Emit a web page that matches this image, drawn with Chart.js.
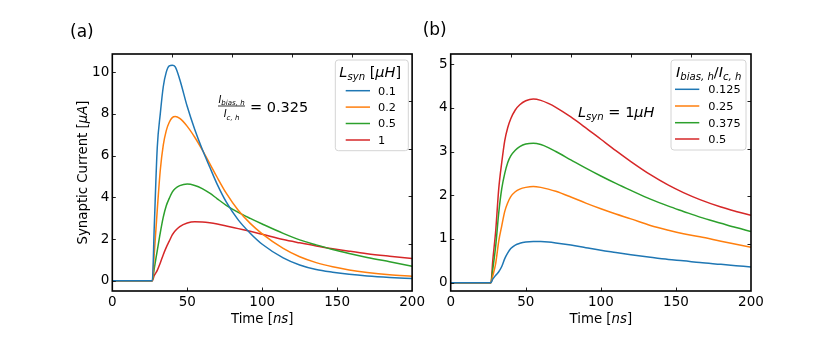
<!DOCTYPE html>
<html>
<head>
<meta charset="utf-8">
<script src="https://cdn.jsdelivr.net/npm/chart.js@4.4.1/dist/chart.umd.min.js"></script>
<style>
body { margin: 0; background: #fff; }
#wrap { position: relative; width: 830px; height: 363px; }
canvas { position: absolute; top: 0; }
#ca { left: 0; }
#cb { left: 415px; }
</style>
</head>
<body>
<div id="wrap">
    <canvas id="ca" width="428" height="363"></canvas>
    <canvas id="cb" width="415" height="363"></canvas>
</div>
<script>
// ---- data (a): Lsyn sweep, Ibias/Ic = 0.325
const timeA = [0, 26.7, 28, 30, 32, 34, 36, 38, 40, 42, 45, 50, 55, 60, 65, 70, 76, 84, 92, 100, 114, 125, 136, 147, 158, 170, 185, 200];
const lsyn01 = [0, 0, 2.6, 6.4, 8.0, 9.3, 10.0, 10.3, 10.33, 10.25, 9.65, 8.35, 7.25, 6.3, 5.45, 4.62, 3.78, 2.92, 2.28, 1.75, 1.1, 0.76, 0.54, 0.41, 0.31, 0.23, 0.16, 0.11];
const lsyn02 = [0, 0, 1.3, 3.4, 5.3, 6.5, 7.2, 7.6, 7.82, 7.87, 7.78, 7.4, 6.88, 6.28, 5.62, 4.95, 4.2, 3.38, 2.75, 2.25, 1.55, 1.15, 0.87, 0.67, 0.52, 0.4, 0.29, 0.22];
const lsyn05 = [0, 0, 0.6, 1.45, 2.3, 3.05, 3.6, 3.95, 4.25, 4.42, 4.56, 4.64, 4.57, 4.42, 4.2, 3.93, 3.62, 3.28, 2.99, 2.72, 2.27, 1.96, 1.72, 1.5, 1.31, 1.12, 0.91, 0.70];
const lsyn1 = [0, 0, 0.25, 0.5, 0.85, 1.25, 1.6, 1.9, 2.2, 2.4, 2.6, 2.77, 2.83, 2.82, 2.78, 2.72, 2.63, 2.5, 2.37, 2.23, 1.98, 1.82, 1.67, 1.54, 1.42, 1.3, 1.18, 1.07];
const labelsA = ['0.1', '0.2', '0.5', '1'];
const yTicksA = [0, 2, 4, 6, 8, 10];

// ---- data (b): Ibias/Ic sweep, Lsyn = 1uH
const timeB = [0, 26.8, 28, 30, 32, 34, 36, 38, 40, 43, 46, 50, 55, 60, 65, 70, 80, 90, 100, 110, 120, 133, 145, 155, 166, 180, 190, 200];
const bias0125 = [0, 0, 0.08, 0.17, 0.25, 0.37, 0.55, 0.68, 0.78, 0.86, 0.9, 0.93, 0.94, 0.94, 0.93, 0.91, 0.86, 0.8, 0.74, 0.69, 0.64, 0.58, 0.53, 0.5, 0.46, 0.42, 0.39, 0.36];
const bias025 = [0, 0, 0.15, 0.45, 0.95, 1.3, 1.63, 1.83, 1.97, 2.08, 2.14, 2.18, 2.2, 2.18, 2.14, 2.09, 1.96, 1.82, 1.69, 1.57, 1.46, 1.31, 1.2, 1.12, 1.05, 0.95, 0.88, 0.81];
const bias0375 = [0, 0, 0.3, 0.85, 1.6, 2.15, 2.5, 2.75, 2.9, 3.03, 3.11, 3.17, 3.19, 3.16, 3.09, 3.0, 2.81, 2.62, 2.44, 2.27, 2.11, 1.91, 1.75, 1.63, 1.5, 1.36, 1.26, 1.17];
const bias05 = [0, 0, 0.5, 1.2, 2.15, 2.75, 3.25, 3.55, 3.75, 3.95, 4.07, 4.16, 4.2, 4.17, 4.1, 4.01, 3.79, 3.54, 3.28, 3.02, 2.77, 2.47, 2.23, 2.06, 1.9, 1.73, 1.63, 1.54];
const labelsB = ['0.125', '0.25', '0.375', '0.5'];
const yTicksB = [0, 1, 2, 3, 4, 5];

const xTicks = [0, 50, 100, 150, 200];
const twinTicks = [0.2, 0.4, 0.6, 0.8];
const colors = ['#1f77b4', '#ff7f0e', '#2ca02c', '#d62728'];
const FAMILY = '"DejaVu Sans", sans-serif';

// draw a run of text pieces (italic / subscript), returns width
function textRuns(ctx, parts, x, y, size, draw) {
    let cx = x;
    parts.forEach(p => {
        const fs = p.sub ? size * 0.7 : size;
        ctx.font = (p.it ? 'italic ' : '') + fs + 'px ' + FAMILY;
        if (draw !== false) ctx.fillText(p.t, cx, y + (p.sub ? size * 0.22 : 0));
        cx += ctx.measureText(p.t).width;
    });
    return cx - x;
}

function textCentered(ctx, parts, cx, y, size) {
    const w = textRuns(ctx, parts, 0, 0, size, false);
    textRuns(ctx, parts, cx - w / 2, y, size);
}

function decor(cfg) {
    return {
        id: 'decor',
        afterDraw(chart) {
            const ctx = chart.ctx, a = chart.chartArea;
            ctx.save();
            // inward ticks on all four sides
            ctx.strokeStyle = '#222';
            ctx.lineWidth = 1;
            const L = 3.5;
            ['x', 'x2', 'y', 'y2'].forEach(id => {
                const s = chart.scales[id];
                s.ticks.forEach(t => {
                    const p = Math.round(s.getPixelForValue(t.value)) + 0.5;
                    ctx.beginPath();
                    if (id === 'x') { if (p <= a.left + 1 || p >= a.right - 1) return; ctx.moveTo(p, a.bottom); ctx.lineTo(p, a.bottom - L); }
                    if (id === 'x2') { if (p <= a.left + 1 || p >= a.right - 1) return; ctx.moveTo(p, a.top); ctx.lineTo(p, a.top + L); }
                    if (id === 'y') { if (p <= a.top + 1 || p >= a.bottom - 1) return; ctx.moveTo(a.left, p); ctx.lineTo(a.left + L, p); }
                    if (id === 'y2') { if (p <= a.top + 1 || p >= a.bottom - 1) return; ctx.moveTo(a.right, p); ctx.lineTo(a.right - L, p); }
                    ctx.stroke();
                });
            });
            // frame
            ctx.strokeStyle = '#000';
            ctx.lineWidth = 1.6;
            ctx.strokeRect(a.left, a.top, a.right - a.left, a.bottom - a.top);

            ctx.fillStyle = '#000';
            ctx.textBaseline = 'alphabetic';
            ctx.textAlign = 'left';

            // legend
            const lg = cfg.legend;
            ctx.beginPath();
            ctx.roundRect(lg.box[0], lg.box[1], lg.box[2] - lg.box[0], lg.box[3] - lg.box[1], 3);
            ctx.fillStyle = 'rgba(255,255,255,0.85)';
            ctx.fill();
            ctx.strokeStyle = '#d4d4d4';
            ctx.lineWidth = 1;
            ctx.stroke();
            ctx.fillStyle = '#000';
            textRuns(ctx, lg.title, lg.titleX, lg.titleY, 14.5);
            chart.data.datasets.forEach((ds, i) => {
                const y = lg.rows[i];
                ctx.strokeStyle = ds.borderColor;
                ctx.lineWidth = 1.5;
                ctx.beginPath();
                ctx.moveTo(lg.lineX[0], y);
                ctx.lineTo(lg.lineX[1], y);
                ctx.stroke();
                ctx.font = '11.3px ' + FAMILY;
                ctx.fillText(ds.label, lg.textX, y + 3.8);
            });

            // annotation
            cfg.note(ctx);

            // axis titles
            textCentered(ctx, [{t: 'Time ['}, {t: 'ns', it: true}, {t: ']'}], (a.left + a.right) / 2, 323.3, 13.3);
            if (cfg.ylabel) {
                ctx.save();
                ctx.translate(86.7, (a.top + a.bottom) / 2);
                ctx.rotate(-Math.PI / 2);
                textCentered(ctx, [{t: 'Synaptic Current ['}, {t: 'μA', it: true}, {t: ']'}], 0, 0, 13.3);
                ctx.restore();
            }
            // panel label
            ctx.font = '17px ' + FAMILY;
            ctx.fillText(cfg.panel, cfg.panelX, cfg.panelY);
            ctx.restore();
        }
    };
}

function makeChart(id, cfg) {
    const tickFont = {family: FAMILY, size: 13.5};
    const sets = cfg.series.map((s, i) => ({
        label: cfg.labels[i],
        data: cfg.time.map((t, k) => ({x: t, y: s[k]})),
        borderColor: colors[i],
        borderWidth: 1.5,
        pointRadius: 0,
        fill: false,
        cubicInterpolationMode: 'monotone'
    }));
    const hidden = {display: false, drawTicks: false};
    return new Chart(document.getElementById(id), {
        type: 'line',
        data: {datasets: sets},
        options: {
            responsive: false,
            animation: false,
            devicePixelRatio: 1,
            layout: {padding: 0},
            plugins: {legend: {display: false}, tooltip: {enabled: false}},
            scales: {
                x: {
                    type: 'linear', position: 'bottom', min: 0, max: 200,
                    grid: hidden, border: {display: false},
                    ticks: {font: tickFont, color: '#000', padding: 3, autoSkip: false, maxRotation: 0},
                    afterBuildTicks: s => { s.ticks = xTicks.map(v => ({value: v})); },
                    afterFit: s => { s.height = 363 - 291; }
                },
                x2: {
                    type: 'linear', position: 'top', min: 0, max: 1,
                    grid: hidden, border: {display: false}, ticks: {display: false},
                    afterBuildTicks: s => { s.ticks = twinTicks.map(v => ({value: v})); },
                    afterFit: s => { s.height = 54; }
                },
                y: {
                    type: 'linear', position: 'left', min: cfg.ymin, max: cfg.ymax,
                    grid: hidden, border: {display: false},
                    ticks: {font: tickFont, color: '#000', padding: 3},
                    afterBuildTicks: s => { s.ticks = cfg.yticks.map(v => ({value: v})); },
                    afterFit: s => { s.width = cfg.leftW; }
                },
                y2: {
                    type: 'linear', position: 'right', min: 0, max: 1,
                    grid: hidden, border: {display: false}, ticks: {display: false},
                    afterBuildTicks: s => { s.ticks = twinTicks.map(v => ({value: v})); },
                    afterFit: s => { s.width = cfg.rightW; }
                }
            }
        },
        plugins: [decor(cfg)]
    });
}

makeChart('ca', {
    time: timeA,
    series: [lsyn01, lsyn02, lsyn05, lsyn1],
    labels: labelsA,
    yticks: yTicksA,
    ymin: -0.49, ymax: 10.87,
    leftW: 112.3, rightW: 428 - 413.3,
    ylabel: true,
    panel: '(a)', panelX: 70, panelY: 37,
    legend: {
        box: [335.3, 60, 408.3, 150.7],
        title: [{t: 'L', it: true}, {t: 'syn', it: true, sub: true}, {t: ' ['}, {t: 'μH', it: true}, {t: ']'}],
        titleX: 339.3, titleY: 77.3,
        rows: [90.7, 107.1, 123.5, 140],
        lineX: [345.7, 370], textX: 378
    },
    note: ctx => {
        textCentered(ctx, [{t: 'I', it: true}, {t: 'bias, h', it: true, sub: true}], 231.5, 102.7, 10);
        ctx.fillRect(218, 105.6, 27, 0.8);
        textCentered(ctx, [{t: 'I', it: true}, {t: 'c, h', it: true, sub: true}], 231.5, 117.3, 10);
        ctx.font = '14.5px ' + FAMILY;
        ctx.fillText('= 0.325', 250, 111.7);
    }
});

makeChart('cb', {
    time: timeB,
    series: [bias0125, bias025, bias0375, bias05],
    labels: labelsB,
    yticks: yTicksB,
    ymin: -0.19, ymax: 5.23,
    leftW: 450.7 - 415, rightW: 830 - 751,
    ylabel: false,
    panel: '(b)', panelX: 7.7, panelY: 35,
    legend: {
        box: [256, 60, 331, 150],
        title: [{t: 'I', it: true}, {t: 'bias, h', it: true, sub: true}, {t: '/'}, {t: 'I', it: true}, {t: 'c, h', it: true, sub: true}],
        titleX: 261, titleY: 77.3,
        rows: [89.3, 106, 122.7, 139],
        lineX: [260, 284.3], textX: 293.3
    },
    note: ctx => {
        textRuns(ctx, [{t: 'L', it: true}, {t: 'syn', it: true, sub: true}, {t: ' = 1'}, {t: 'μH', it: true}], 163, 116.7, 14.5);
    }
});
</script>
</body>
</html>
